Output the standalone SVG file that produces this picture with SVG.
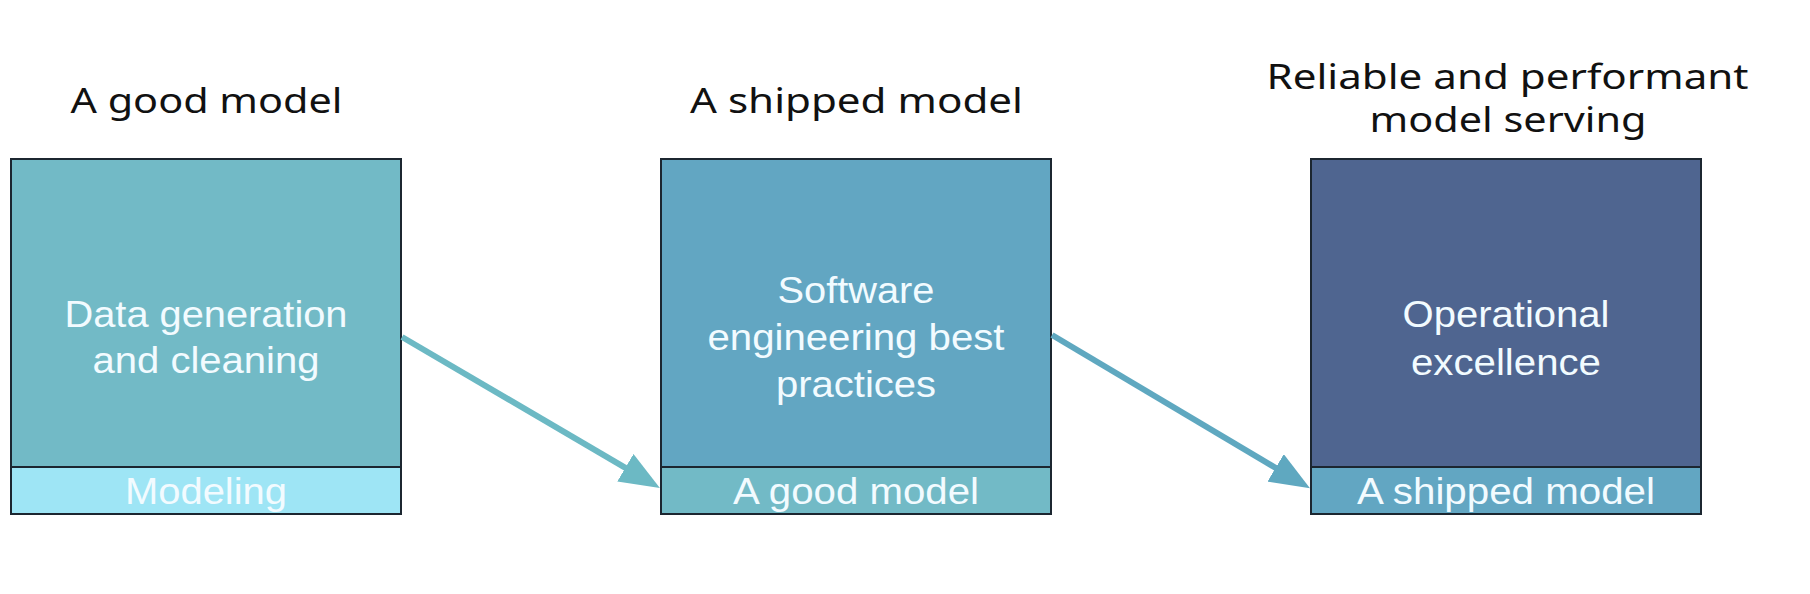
<svg xmlns="http://www.w3.org/2000/svg" width="1810" height="594" viewBox="0 0 1810 594">
<style>
.title{font-family:"Noto Sans","Open Sans","DejaVu Sans",sans-serif;font-size:34px;font-weight:400;fill:#111;text-anchor:middle}
.lbl{font-family:"Liberation Sans",Arial,sans-serif;font-size:37px;fill:#f2fbff;text-anchor:middle}
.frame{fill:none;stroke:#1c2630;stroke-width:2}
.conn{stroke-width:6;fill:none}
</style>
<defs>
<marker id="ah1" viewBox="0 0 40 32" markerWidth="40" markerHeight="32" refX="10" refY="16" orient="auto" markerUnits="userSpaceOnUse">
<path d="M0,0 L40,16 L0,32 z" fill="#6cb9c4"/>
</marker>
<marker id="ah2" viewBox="0 0 40 32" markerWidth="40" markerHeight="32" refX="10" refY="16" orient="auto" markerUnits="userSpaceOnUse">
<path d="M0,0 L40,16 L0,32 z" fill="#5fa8c0"/>
</marker>
</defs>
<rect width="1810" height="594" fill="#ffffff"/>

<g id="title1"><text class="title" x="206.5" y="113" textLength="272" lengthAdjust="spacingAndGlyphs">A good model</text></g>
<g id="title2"><text class="title" x="856.5" y="113" textLength="333" lengthAdjust="spacingAndGlyphs">A shipped model</text></g>
<g id="title3">
<text class="title" x="1507.5" y="89" textLength="482" lengthAdjust="spacingAndGlyphs">Reliable and performant</text>
<text class="title" x="1508" y="132" textLength="277" lengthAdjust="spacingAndGlyphs">model serving</text>
</g>

<g id="node1">
<rect x="11" y="159" width="390" height="308" fill="#72bac6"/>
<rect x="11" y="467" width="390" height="47" fill="#9ee5f5"/>
<rect class="frame" x="11" y="159" width="390" height="355"/>
<line class="frame" x1="11" y1="467" x2="401" y2="467"/>
<text class="lbl" x="206" y="327" textLength="283" lengthAdjust="spacingAndGlyphs">Data generation</text>
<text class="lbl" x="206" y="373" textLength="227" lengthAdjust="spacingAndGlyphs">and cleaning</text>
<text class="lbl" x="206" y="504" textLength="162" lengthAdjust="spacingAndGlyphs">Modeling</text>
</g>

<g id="node2">
<rect x="661" y="159" width="390" height="308" fill="#62a6c2"/>
<rect x="661" y="467" width="390" height="47" fill="#72bac6"/>
<rect class="frame" x="661" y="159" width="390" height="355"/>
<line class="frame" x1="661" y1="467" x2="1051" y2="467"/>
<text class="lbl" x="856" y="303" textLength="157" lengthAdjust="spacingAndGlyphs">Software</text>
<text class="lbl" x="856" y="350" textLength="297" lengthAdjust="spacingAndGlyphs">engineering best</text>
<text class="lbl" x="856" y="397" textLength="160" lengthAdjust="spacingAndGlyphs">practices</text>
<text class="lbl" x="856" y="504" textLength="246" lengthAdjust="spacingAndGlyphs">A good model</text>
</g>

<g id="node3">
<rect x="1311" y="159" width="390" height="308" fill="#4f6590"/>
<rect x="1311" y="467" width="390" height="47" fill="#62a6c2"/>
<rect class="frame" x="1311" y="159" width="390" height="355"/>
<line class="frame" x1="1311" y1="467" x2="1701" y2="467"/>
<text class="lbl" x="1506" y="327" textLength="207" lengthAdjust="spacingAndGlyphs">Operational</text>
<text class="lbl" x="1506" y="375" textLength="190" lengthAdjust="spacingAndGlyphs">excellence</text>
<text class="lbl" x="1506" y="504" textLength="298" lengthAdjust="spacingAndGlyphs">A shipped model</text>
</g>

<g id="connectors">
<line class="conn" x1="402" y1="337" x2="634" y2="472.8" stroke="#6cb9c4" marker-end="url(#ah1)"/>
<line class="conn" x1="1052" y1="335" x2="1284.2" y2="473" stroke="#5fa8c0" marker-end="url(#ah2)"/>
</g>
</svg>
